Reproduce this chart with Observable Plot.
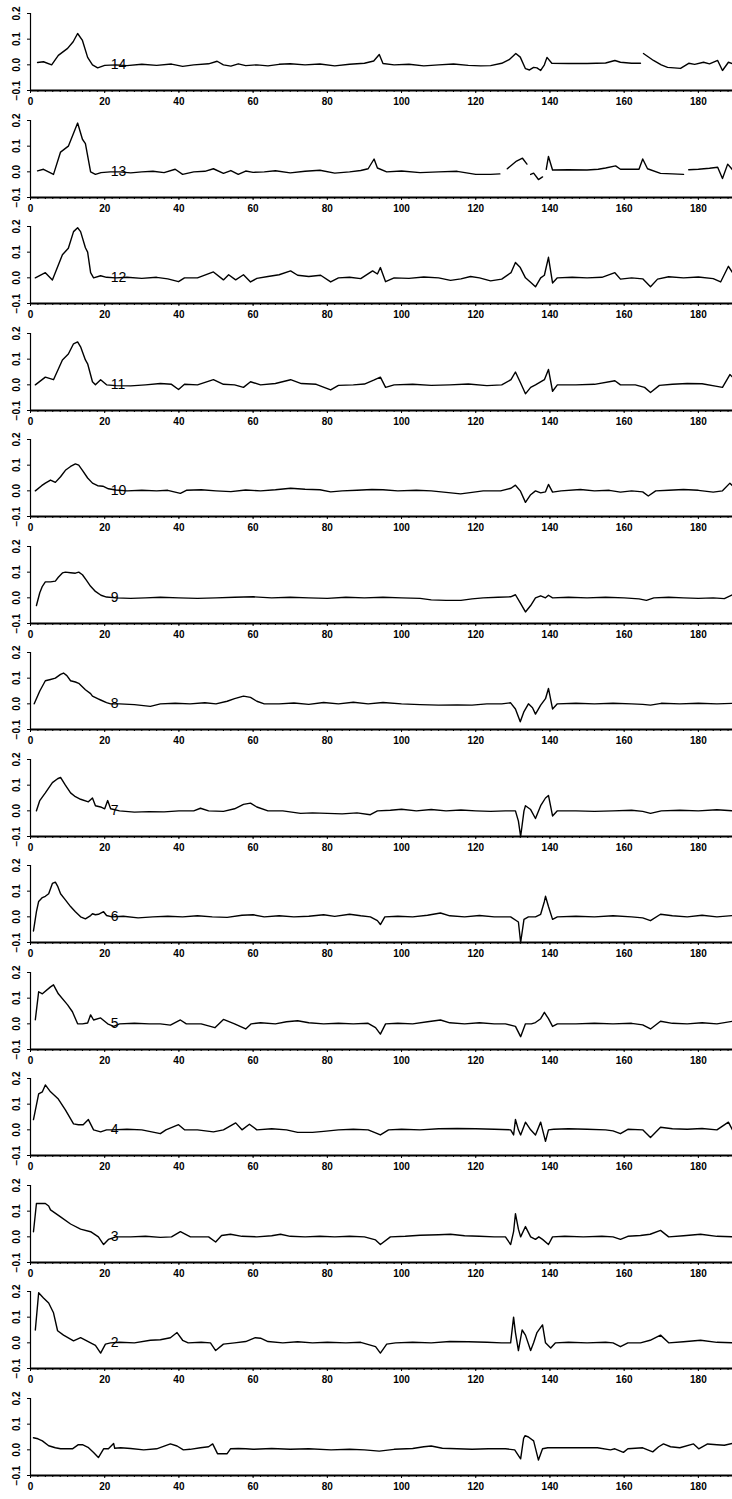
<!DOCTYPE html>
<html><head><meta charset="utf-8">
<script src="https://cdn.jsdelivr.net/npm/d3@7"></script>
<script src="https://cdn.jsdelivr.net/npm/@observablehq/plot@0.6"></script>
<style>
html,body{margin:0;padding:0;background:#fff;}
#chart{position:relative;width:732px;height:1499px;overflow:hidden;background:#fff;}
#chart svg{position:absolute;left:0;overflow:visible;}
</style></head><body><div id="chart"></div>
<script>
const xTicks = [0, 20, 40, 60, 80, 100, 120, 140, 160, 180];
const yTicks = [-0.1, 0.0, 0.1, 0.2];
const panelLabels = ["14","13","12","11","10","9","8","7","6","5","4","3","2",""];

const s14 = [[1.9,0.009],[3.5,0.012],[5.7,0.0],[7.5,0.037],[10.0,0.064],[11.5,0.09],[12.7,0.122],[14.0,0.095],[15.4,0.029],[16.7,0.0],[18.1,-0.012],[20,-0.002],[23,0.0],[26,-0.003],[30,0.002],[34,-0.002],[38,0.003],[41,-0.006],[44,0.0],[48,0.004],[50.3,0.014],[52,0.0],[54,-0.005],[56,0.004],[58,-0.003],[61,0.0],[64,-0.004],[67,0.002],[70,0.004],[74,0.0],[78,0.003],[82,-0.004],[86,0.002],[90,0.006],[92.5,0.015],[94,0.04],[95,0.005],[98,0.0],[102,0.002],[106,-0.004],[110,0.0],[114,0.003],[118,-0.002],[121.3,-0.004],[124,-0.003],[127,0.006],[129,0.02],[130.8,0.044],[132,0.03],[133.4,-0.015],[134.5,-0.02],[135.6,-0.01],[136.5,-0.012],[137.5,-0.022],[138.5,0.0],[139.2,0.029],[140.5,0.006],[145,0.005],[150,0.005],[155,0.007],[157.5,0.017],[159,0.01],[162,0.006],[164.4,0.006],[164.8,null],[165.2,0.044],[167.9,0.017],[170,0.0],[171.7,-0.01],[175.2,-0.014],[177.4,0.006],[179,0.002],[181.4,0.01],[183,0.004],[185.2,0.017],[186.5,-0.022],[188.1,0.01],[189.2,0.005]];
const s13 = [[1.9,0.004],[3.5,0.01],[6.2,-0.01],[8.1,0.077],[10.2,0.1],[11.6,0.15],[12.7,0.19],[14.0,0.127],[14.8,0.11],[16.2,0.0],[17.5,-0.01],[19,-0.003],[21.5,0.0],[24,0.0],[27,-0.004],[30,0.0],[33,0.002],[36,-0.003],[39,0.01],[41,-0.01],[44,0.0],[47,0.002],[49.3,0.012],[52,-0.006],[54,0.005],[56,-0.01],[58,0.003],[60,-0.002],[63,0.0],[66,0.004],[70,-0.004],[74,0.002],[78,0.006],[82,-0.005],[86,0.0],[89,0.005],[91,0.012],[92.6,0.05],[93.5,0.015],[96,0.0],[100,0.003],[105,-0.003],[110,0.0],[115,0.002],[120,-0.01],[124,-0.01],[126.5,-0.008],[127.5,null],[128.5,0.012],[131,0.042],[132.6,0.053],[133.8,0.03],[134.3,null],[134.8,-0.01],[135.6,-0.005],[136.9,-0.03],[138,-0.02],[138.5,null],[139.0,0.01],[139.6,0.06],[140.7,0.007],[145,0.008],[150,0.007],[153,0.01],[155,0.015],[157.7,0.023],[159,0.01],[162,0.01],[164,0.01],[165,0.05],[166.3,0.012],[169.8,-0.006],[173,-0.008],[176,-0.01],[176.7,null],[177.4,0.008],[180,0.01],[183,0.014],[185.2,0.018],[186.5,-0.026],[187.9,0.03],[189.2,0.008]];
const s12 = [[1.3,0.0],[4.0,0.02],[5.9,-0.008],[8.6,0.09],[10.2,0.115],[11.6,0.18],[12.7,0.195],[13.5,0.18],[14.8,0.117],[15.4,0.1],[16.2,0.02],[17.0,0.0],[18.9,0.008],[20.5,0.002],[23,0.0],[26,0.002],[30,-0.002],[34,0.002],[37,-0.004],[39.9,-0.015],[41.5,0.0],[45,0.0],[49.3,0.023],[52,-0.008],[53.4,0.012],[55.3,-0.008],[57.4,0.012],[59.3,-0.016],[61,-0.002],[64,0.005],[67,0.012],[70.1,0.027],[72,0.01],[75,0.005],[78.2,0.01],[80.9,-0.016],[83,0.0],[86,0.002],[89,-0.003],[92.2,0.027],[93.5,0.015],[94.3,0.04],[95.7,-0.015],[98,0.0],[102,-0.002],[106,0.003],[110,0.0],[113.2,-0.01],[116,-0.004],[118.6,0.005],[121,0.0],[124,-0.012],[127,-0.005],[129.5,0.02],[130.7,0.06],[132,0.04],[133.4,0.0],[135,-0.02],[136.1,-0.035],[137.5,0.0],[138.5,0.01],[139.6,0.08],[140.7,-0.02],[142,0.0],[146,0.002],[150,0.0],[154,0.002],[157.5,0.02],[159,-0.005],[162,0.0],[165,-0.004],[167.1,-0.035],[169,-0.005],[172,0.004],[176,0.0],[180,0.003],[184,-0.003],[186,-0.016],[188.1,0.045],[189.2,0.02]];
const s11 = [[1.3,0.0],[4.0,0.03],[6.2,0.02],[8.6,0.097],[10.2,0.12],[11.6,0.16],[12.7,0.167],[13.5,0.148],[14.8,0.097],[15.4,0.082],[16.7,0.012],[17.5,0.0],[18.9,0.02],[20.5,0.0],[23,-0.003],[27,-0.004],[31,0.0],[35,0.005],[38,0.002],[39.9,-0.018],[41.5,0.002],[45,0.0],[49.3,0.02],[52,0.002],[55,0.0],[57.4,-0.01],[59.3,0.012],[62,0.0],[66,0.005],[70.1,0.02],[73,0.005],[77,0.002],[80.9,-0.02],[83,-0.002],[87,0.0],[90,0.003],[92.5,0.018],[94.3,0.03],[95.7,-0.01],[98,0.0],[103,0.002],[108,-0.002],[113,0.0],[118,0.003],[123,-0.003],[127,0.0],[129.5,0.02],[130.7,0.05],[132,0.01],[133.4,-0.035],[134.8,-0.01],[136.1,0.0],[138.5,0.02],[139.6,0.06],[140.7,-0.025],[142,0.0],[147,0.0],[152,0.002],[157.5,0.016],[159,0.0],[163,0.0],[165.5,-0.01],[167.1,-0.03],[169.5,-0.002],[173,0.002],[177,0.005],[181,0.004],[185,-0.006],[186.5,-0.01],[188.5,0.04],[189.2,0.03]];
const s10 = [[1.3,0.0],[3.0,0.02],[4.0,0.03],[5.4,0.042],[6.7,0.033],[8.1,0.055],[9.4,0.08],[10.8,0.095],[12.1,0.105],[13.0,0.1],[14.0,0.08],[15.4,0.05],[16.7,0.03],[18.1,0.02],[19.5,0.018],[21,0.008],[23,0.003],[26,0.0],[30,0.002],[34,0.0],[37,0.002],[40.4,-0.01],[42,0.002],[46,0.004],[50,0.0],[54,-0.003],[58,0.003],[62,0.0],[66,0.004],[70.1,0.01],[74,0.006],[78,0.004],[80.9,-0.004],[84,0.0],[88,0.002],[92,0.005],[95,0.004],[99,0.0],[104,0.002],[108,0.0],[112,-0.006],[115.9,-0.012],[119,-0.006],[122,0.0],[126.7,0.0],[129.5,0.01],[130.7,0.022],[132,0.0],[133.4,-0.045],[134.8,-0.015],[136.1,0.0],[137.5,-0.008],[138.8,-0.004],[139.6,0.025],[140.7,-0.005],[143,0.0],[148.2,0.005],[152,0.0],[156,0.002],[159,-0.005],[162,0.0],[165,-0.004],[166.5,-0.02],[168.5,0.0],[172,0.002],[176,0.005],[180,0.002],[184,-0.005],[186.5,0.0],[188.5,0.03],[189.2,0.02]];
const s9 = [[1.6,-0.03],[2.5,0.02],[3.2,0.045],[4.0,0.062],[5.4,0.062],[6.7,0.065],[7.5,0.08],[8.6,0.097],[9.4,0.1],[10.8,0.098],[12.1,0.096],[13.0,0.1],[14.0,0.09],[15.0,0.07],[16.2,0.045],[17.5,0.025],[19.0,0.01],[20.5,0.003],[23,0.0],[27,-0.002],[31,0.0],[35,0.002],[40,0.0],[45,-0.002],[50,0.0],[55,0.002],[60,0.004],[65,0.0],[70,0.002],[75,0.0],[80,-0.002],[85,0.002],[90,0.0],[95,0.002],[100,0.0],[105,-0.002],[108,-0.008],[112,-0.01],[116,-0.01],[119,-0.004],[122,0.0],[126,0.002],[129.4,0.004],[130.7,0.012],[132,-0.02],[133.4,-0.055],[134.8,-0.03],[136.1,0.0],[137.5,0.008],[138.8,0.0],[139.6,0.01],[140.7,0.0],[145,0.002],[150,0.0],[155,0.002],[160,0.0],[164,-0.004],[166,-0.01],[168,0.0],[172,0.002],[176,0.0],[180,-0.002],[184,0.0],[187,-0.003],[189.2,0.012]];
const s8 = [[1.0,0.0],[2.5,0.05],[4.0,0.09],[5.4,0.095],[6.7,0.1],[8.1,0.115],[8.9,0.12],[9.8,0.11],[10.8,0.09],[12.1,0.085],[13.0,0.08],[14.8,0.055],[16.2,0.04],[16.7,0.03],[18.1,0.02],[18.9,0.015],[20.5,0.005],[21.6,0.0],[24,0.0],[28,-0.003],[32.3,-0.01],[35,0.0],[39,0.002],[43,0.0],[47,0.004],[50,0.0],[53,0.01],[55,0.02],[57.4,0.03],[59.3,0.025],[61,0.01],[63,0.0],[67,0.0],[71,0.003],[75,-0.002],[79,0.005],[83,0.0],[87,0.006],[91,0.0],[95,0.005],[100,0.0],[105,-0.003],[110,-0.005],[115,-0.004],[119,-0.005],[123,0.0],[127,0.0],[129.4,0.004],[130.7,-0.02],[132,-0.07],[133,-0.03],[134.2,0.0],[135.3,-0.015],[136.1,-0.04],[137.5,-0.005],[138.8,0.02],[139.6,0.06],[140.7,-0.02],[142,0.0],[147,0.002],[152,0.0],[157,0.002],[162,0.0],[165,-0.002],[167.1,-0.005],[170,0.002],[175,0.0],[180,0.002],[185,0.0],[189.2,0.002]];
const s7 = [[1.6,0.0],[2.5,0.04],[4.0,0.07],[5.9,0.11],[7.3,0.125],[8.1,0.13],[9.4,0.1],[10.8,0.07],[12.1,0.055],[13.5,0.045],[15.6,0.035],[16.7,0.05],[17.5,0.02],[18.9,0.015],[20,0.008],[20.8,0.04],[21.6,0.008],[24,0.0],[28,-0.005],[32,-0.003],[36,-0.004],[40,0.0],[44,0.0],[45.8,0.01],[48,0.0],[52,-0.002],[55,0.008],[57.4,0.025],[59.3,0.03],[61,0.015],[64,0.0],[68,0.0],[72.8,-0.01],[76,-0.008],[80,-0.01],[84,-0.012],[88,-0.008],[91.6,-0.015],[93.5,0.0],[97,0.002],[100,0.006],[104,0.0],[108,0.005],[112,0.0],[116,0.003],[120,0.0],[124,-0.002],[128,0.0],[130.7,0.0],[131.5,-0.04],[132.1,-0.1],[133,0.0],[133.4,0.02],[134.8,0.005],[136.1,-0.03],[137.5,0.02],[138.8,0.05],[139.6,0.06],[140.7,-0.02],[142,0.0],[147,0.0],[152,-0.002],[157,0.0],[162,0.002],[165,-0.002],[167.1,-0.01],[170,0.0],[175,0.002],[180,0.0],[185,0.004],[189.2,0.0]];
const s6 = [[0.8,-0.055],[1.6,0.02],[2.2,0.06],[3.2,0.075],[4.0,0.08],[4.9,0.09],[5.9,0.13],[6.7,0.135],[7.3,0.12],[8.1,0.09],[9.4,0.066],[10.8,0.04],[12.1,0.02],[13.5,0.0],[14.8,-0.008],[16.2,0.005],[16.7,0.012],[17.5,0.008],[18.3,0.01],[19.7,0.02],[20.5,0.005],[22,0.0],[25,0.002],[29,-0.004],[33,0.0],[37,0.002],[41,0.0],[45,0.004],[49,0.0],[53,-0.002],[57,0.006],[60,0.008],[63,0.0],[67,0.004],[71,0.0],[75,0.002],[79,0.008],[82,0.002],[86,0.01],[89,0.004],[91.6,0.0],[93.5,-0.015],[94.3,-0.03],[95.5,0.0],[99,0.002],[103,0.0],[107,0.006],[110.5,0.015],[113,0.004],[117,0.0],[121,0.005],[125,0.0],[129.4,0.0],[131.5,-0.02],[132.1,-0.1],[133,-0.01],[134.2,0.0],[136.1,0.0],[137.5,0.01],[138.5,0.06],[138.8,0.08],[139.6,0.04],[140.7,-0.01],[142,0.0],[147,0.002],[152,0.0],[157,0.004],[162,0.0],[165,-0.004],[167.1,-0.015],[169.8,0.01],[173,0.004],[177,0.0],[181,0.006],[185,0.0],[189.2,0.005]];
const s5 = [[1.3,0.016],[2.2,0.125],[3.2,0.117],[5.4,0.144],[6.2,0.152],[7.5,0.117],[10.0,0.074],[11.3,0.047],[12.7,0.0],[14.0,0.0],[15.4,0.003],[16.2,0.035],[17.0,0.015],[18.9,0.023],[20.8,0.0],[22.4,-0.01],[24,0.0],[28,0.002],[32,0.0],[35,0.0],[37.7,-0.005],[40.4,0.015],[42,0.0],[46,0.0],[49.7,-0.015],[52.0,0.017],[55,0.0],[58.0,-0.02],[59.5,0.0],[62,0.004],[66,0.0],[69,0.008],[72,0.012],[75,0.004],[79,0.0],[83,0.002],[87,0.0],[91,0.002],[93,-0.015],[94.3,-0.04],[95.7,0.0],[99,0.002],[103,0.0],[107,0.008],[110.5,0.015],[113,0.004],[117,0.0],[121,0.004],[125,0.0],[128,0.0],[130.7,-0.01],[132.1,-0.05],[133.4,0.0],[135,0.0],[136.1,0.005],[137.5,0.02],[138.5,0.045],[139.6,0.02],[140.7,-0.01],[142,0.0],[147,0.0],[152,0.002],[157,0.0],[162,0.002],[165,-0.004],[167.1,-0.02],[169.8,0.01],[173,0.002],[177,0.0],[181,0.004],[185,0.0],[189.2,0.01]];
const s4 = [[0.8,0.04],[2.2,0.14],[3.2,0.148],[4.0,0.175],[5.4,0.148],[7.5,0.12],[9.4,0.078],[11.6,0.023],[12.9,0.02],[14.2,0.02],[15.6,0.04],[17.0,0.0],[18.9,-0.008],[20.5,0.0],[22,0.0],[26,0.002],[30,0.0],[35,-0.015],[36.5,0.0],[39.9,0.02],[41.5,0.0],[45,0.0],[49.3,-0.008],[52,0.0],[55.3,0.027],[57,0.0],[59,0.022],[61,0.0],[65,0.004],[69,0.0],[72,-0.01],[76,-0.01],[79,-0.006],[83,0.0],[87,0.002],[91,0.0],[93,-0.012],[94.3,-0.02],[96.5,0.0],[100,0.002],[105,0.0],[110,0.004],[115,0.005],[120,0.004],[125,0.002],[129.4,0.0],[130.2,-0.02],[130.7,0.04],[131.5,0.0],[132.1,-0.02],[133.4,0.03],[134.8,0.0],[136.1,-0.02],[137.5,0.03],[138.8,-0.045],[139.6,0.0],[141,0.002],[145,0.004],[150,0.002],[155,0.0],[157,-0.004],[159,-0.015],[161,0.002],[165,0.0],[167.1,-0.03],[169.8,0.01],[173,0.004],[177,0.002],[181,0.005],[185,0.0],[188.1,0.03],[189.2,0.0]];
const s3 = [[0.8,0.02],[1.6,0.13],[4.0,0.13],[4.9,0.12],[5.4,0.105],[8.1,0.078],[10.8,0.05],[13.5,0.03],[16.2,0.02],[18.3,0.0],[19.7,-0.03],[21,-0.01],[23,0.0],[27,0.0],[31,0.002],[35,-0.002],[38,0.0],[40.4,0.02],[43.1,0.0],[45.8,0.0],[48,0.0],[49.9,-0.02],[51.5,0.005],[53.9,0.01],[57,0.002],[61,0.0],[65,0.004],[67.4,0.01],[70,0.002],[74,0.0],[78,0.002],[82,0.0],[86,0.002],[90,0.0],[93,-0.012],[94.3,-0.03],[97,0.0],[101,0.002],[105,0.006],[110,0.008],[113.2,0.01],[117,0.004],[121,0.002],[125,0.0],[128,0.0],[129.4,-0.03],[130.2,0.02],[130.7,0.09],[131.5,0.03],[132.1,0.0],[133.4,0.04],[134.8,0.0],[136.1,-0.01],[137,0.0],[138,-0.01],[139.6,-0.03],[140.7,0.0],[144,0.002],[149,0.0],[154,0.002],[157,0.0],[159,-0.01],[161,0.002],[164.4,0.005],[167,0.01],[169.8,0.025],[172,0.0],[176,0.004],[180.6,0.01],[185,0.002],[189.2,0.0]];
const s2 = [[1.3,0.05],[2.2,0.195],[3.5,0.175],[4.9,0.155],[6.2,0.117],[7.3,0.047],[8.9,0.03],[11.6,0.008],[13.5,0.02],[16.2,0.0],[17.5,-0.01],[18.9,-0.04],[20.2,-0.005],[21.6,0.0],[24,0.002],[28,0.0],[32.3,0.01],[35,0.012],[37.7,0.02],[39.5,0.04],[41,0.01],[42.5,0.0],[46,0.002],[48.5,0.0],[49.9,-0.03],[52,-0.005],[55,0.0],[58,0.005],[60.6,0.02],[62,0.018],[64,0.005],[68,0.0],[72,0.004],[76,0.0],[80,0.002],[85,0.0],[89,0.002],[93,-0.015],[94.3,-0.04],[96,-0.005],[98.4,0.0],[103,0.002],[108,0.0],[113,0.005],[118,0.004],[123,0.002],[127,0.0],[129.4,0.0],[130.2,0.1],[130.7,0.04],[131.5,-0.03],[132.5,0.05],[133.4,0.03],[134.8,-0.03],[135.6,0.0],[136.5,0.04],[137.5,0.06],[138,0.07],[138.8,0.0],[140.2,-0.02],[141.5,0.0],[145,0.002],[150,0.0],[155,0.002],[157,0.0],[159,-0.015],[161,0.0],[164.4,0.0],[167,0.01],[169.8,0.03],[172,0.0],[176,0.004],[180.6,0.01],[185,0.002],[189.2,0.0]];
const s1 = [[0.8,0.047],[2,0.043],[3.2,0.035],[4.9,0.016],[6.7,0.008],[8.1,0.004],[11.3,0.004],[12.9,0.02],[14,0.02],[15.5,0.01],[17.0,-0.01],[18.3,-0.03],[19.7,0.004],[21,0.004],[22.4,0.025],[22.7,0.006],[24.3,0.008],[27,0.005],[30.5,0.0],[34,0.004],[37.7,0.023],[39.5,0.015],[41.2,0.0],[43,0.002],[45.8,0.008],[48,0.012],[49.1,0.023],[50.4,-0.015],[53,-0.015],[53.9,0.004],[56,0.005],[58,0.004],[60,0.002],[65,0.005],[70,0.002],[75,0.004],[81,0.0],[86,0.002],[90,0.0],[94,-0.005],[98,0.002],[103,0.005],[106,0.012],[108,0.015],[111,0.006],[115,0.004],[119,0.002],[123.4,0.004],[128,0.004],[130.5,0.0],[132.1,-0.035],[132.9,0.045],[133.3,0.055],[134.2,0.05],[135.6,0.035],[136.9,-0.04],[138,0.004],[139.4,0.008],[141,0.008],[145,0.008],[150,0.008],[152.8,0.008],[156.3,0.0],[157.5,0.004],[159.8,-0.01],[161,0.004],[165,0.008],[167.7,-0.008],[169.3,0.012],[170.6,0.023],[172.5,0.012],[175,0.008],[178.7,0.023],[180.1,0.004],[182.5,0.023],[185,0.02],[187,0.018],[189.2,0.025]];

const series = [s14, s13, s12, s11, s10, s9, s8, s7, s6, s5, s4, s3, s2, s1];

const chart = document.getElementById("chart");
const fmt = d3.format(".1f");
const minorX = d3.range(0, 190, 2);
series.forEach((s, k) => {
  const data = s.map(([x, y]) => ({x, y}));
  const marks = [
    Plot.axisX({ticks: minorX, tickSize: 2, tickFormat: () => "", label: null}),
    Plot.axisX({ticks: xTicks, tickSize: 3, tickPadding: 4, tickFormat: d => String(d), fontSize: 10, fontWeight: "bold", label: null}),
    Plot.axisY({ticks: yTicks, tickSize: 3, tickFormat: () => "", label: null}),
    Plot.text(yTicks, {y: d => d, text: d => fmt(d), frameAnchor: "left", dx: -14, rotate: -90, textAnchor: "middle", fontSize: 10, fontWeight: "bold"}),
    Plot.ruleX([0], {strokeWidth: 1.2}),
    Plot.ruleY([-0.1], {strokeWidth: 2}),
    Plot.line(data, {x: "x", y: "y", stroke: "black", strokeWidth: 1.4})
  ];
  if (panelLabels[k]) {
    marks.push(Plot.text([panelLabels[k]], {x: 21.6, y: 0, text: d => d, textAnchor: "start", fontSize: 14}));
  }
  const plot = Plot.plot({
    width: 732, height: 107,
    marginTop: 13, marginBottom: 17, marginLeft: 30, marginRight: 0,
    style: {background: "transparent", fontFamily: "Liberation Sans", fontSize: "10px", color: "black", overflow: "visible"},
    x: {domain: [0, 189.2], label: null},
    y: {domain: [-0.1, 0.2], label: null},
    marks
  });
  plot.style.top = (k * 106.5) + "px";
  chart.appendChild(plot);
});
</script></body></html>
